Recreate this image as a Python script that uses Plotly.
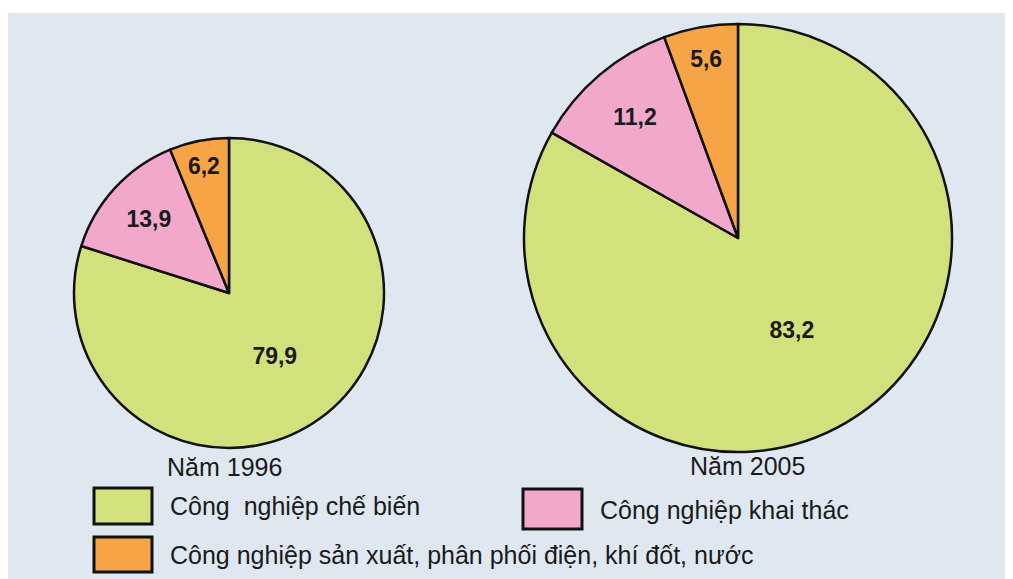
import plotly.graph_objects as go

categories = ["Công nghiệp sản xuất, phân phối điện, khí đốt, nước",
              "Công nghiệp khai thác",
              "Công nghiệp chế biến"]
values_1996 = [6.2, 13.9, 79.9]
values_2005 = [5.6, 11.2, 83.2]
year_titles = ["Năm 1996", "Năm 2005"]
colors = ["#F6A445", "#F2A8CB", "#D3E17C"]

# page body has an 8px margin; size the figure to fill the rest of the window
OFF = 8
W, H = 1013 - OFF, 579 - OFF
BG = "#DFE8F1"
FONT = "Liberation Sans, Arial, sans-serif"


def px_x(x):
    return (x - OFF) / W


def px_y(y):
    return 1 - (y - OFF) / H


def fmt(v):
    return f"{v:.1f}".replace(".", ",")


fig = go.Figure()

pies = [
    (values_1996, [px_x(73), px_x(385)], [px_y(448), px_y(138)]),
    (values_2005, [px_x(524), px_x(952)], [px_y(452), px_y(24)]),
]
for vals, dx, dy in pies:
    # drawn clockwise from 12 o'clock in reverse order, so the small slices
    # sit just left of 12 o'clock as in the source figure
    fig.add_trace(go.Pie(
        labels=categories[::-1], values=vals[::-1], sort=False,
        direction="clockwise", rotation=0,
        marker=dict(colors=colors[::-1], line=dict(color="#111111", width=2.5)),
        text=[fmt(v) for v in vals[::-1]], textinfo="text",
        textposition="inside", insidetextorientation="horizontal",
        textfont=dict(family=FONT, size=23, color="#1a1a1a", weight="bold"),
        hoverinfo="label+value",
        domain=dict(x=dx, y=dy), showlegend=False,
    ))

shapes = [
    dict(type="rect", xref="paper", yref="paper", x0=0, x1=1, y0=px_y(13), y1=1,
         fillcolor="#FEFEFA", line=dict(width=0), layer="below"),
]
annotations = [
    dict(text=year_titles[0], x=px_x(224), y=px_y(467), xref="paper", yref="paper",
         xanchor="center", yanchor="middle",
         showarrow=False, font=dict(family=FONT, size=25, color="#1a1a1a")),
    dict(text=year_titles[1], x=px_x(747), y=px_y(466), xref="paper", yref="paper",
         xanchor="center", yanchor="middle",
         showarrow=False, font=dict(family=FONT, size=25, color="#1a1a1a")),
]

legend_items = [
    (2, 94, 488, 152, 524, 168, 506),
    (1, 523, 489, 582, 529, 598, 510),
    (0, 94, 537, 152, 572, 168, 555),
]
for idx, x0, y0, x1, y1, tx, ty in legend_items:
    shapes.append(dict(type="rect", xref="paper", yref="paper",
                       x0=px_x(x0), x1=px_x(x1), y0=px_y(y1), y1=px_y(y0),
                       fillcolor=colors[idx], line=dict(color="#111111", width=3)))
    label = categories[idx]
    if idx == 2:
        label = "Công  nghiệp chế biến"
    annotations.append(dict(text=label, x=px_x(tx), y=px_y(ty), xref="paper", yref="paper",
                            xanchor="left", yanchor="middle", showarrow=False,
                            font=dict(family=FONT, size=25, color="#1a1a1a")))

fig.update_layout(
    width=W, height=H, margin=dict(l=0, r=0, t=0, b=0),
    paper_bgcolor=BG, plot_bgcolor=BG,
    shapes=shapes, annotations=annotations, showlegend=False,
)
fig.write_html("out.html")
